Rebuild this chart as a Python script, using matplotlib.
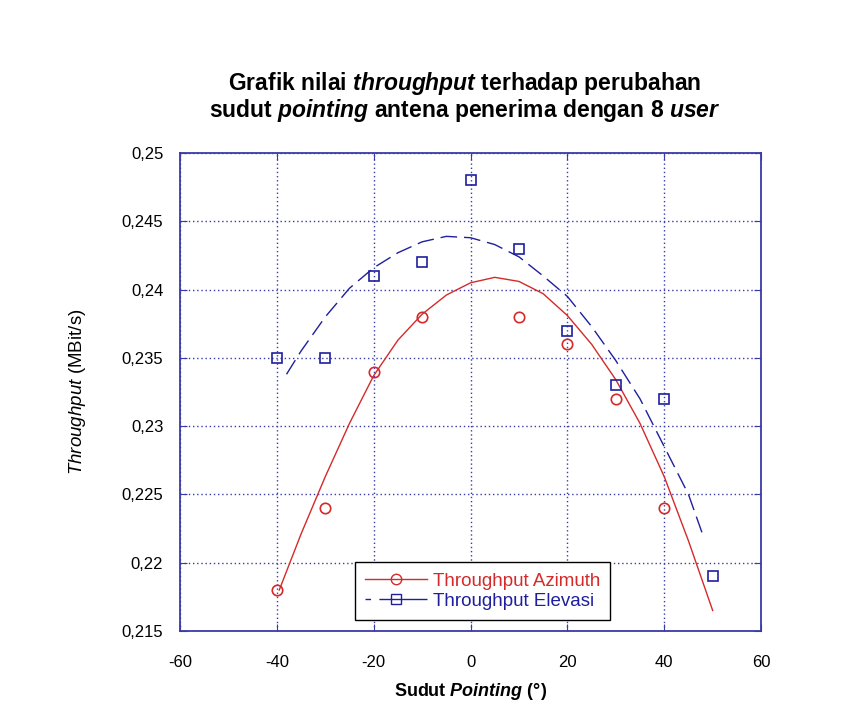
import numpy as np
import matplotlib
matplotlib.use("Agg")
import matplotlib.pyplot as plt
from matplotlib.ticker import FuncFormatter, MultipleLocator

plt.rcParams['font.family'] = ['Liberation Sans', 'DejaVu Sans']
plt.rcParams['mathtext.fontset'] = 'custom'
plt.rcParams['mathtext.rm'] = 'Liberation Sans'
plt.rcParams['mathtext.it'] = 'Liberation Sans:italic'
plt.rcParams['mathtext.bf'] = 'Liberation Sans:bold'
plt.rcParams['mathtext.bfit'] = 'Liberation Sans:italic:bold'

# measured points
azimuth_x = [-40, -30, -20, -10, 10, 20, 30, 40]
azimuth_y = [0.218, 0.224, 0.234, 0.238, 0.238, 0.236, 0.232, 0.224]
elevasi_x = [-40, -30, -20, -10, 0, 10, 20, 30, 40, 50]
elevasi_y = [0.235, 0.235, 0.241, 0.242, 0.248, 0.243, 0.237, 0.233, 0.232, 0.219]

# trend curves
az_curve_x = [-39.5, -35, -30, -25, -20, -15, -10, -5, 0, 5, 10, 15, 20, 25, 30, 35, 40, 45, 50]
az_curve_y = [0.2180, 0.2221, 0.2263, 0.2302, 0.2337, 0.2363, 0.2382, 0.2396, 0.2405, 0.2409,
              0.2406, 0.2397, 0.2381, 0.2360, 0.2334, 0.2302, 0.2263, 0.2216, 0.2165]
el_curve_x = [-38, -35, -30, -25, -20, -15, -10, -5, 0, 5, 10, 15, 20, 25, 30, 35, 40, 45, 48]
el_curve_y = [0.2338, 0.2355, 0.2380, 0.2401, 0.2416, 0.2427, 0.2435, 0.2439, 0.2438, 0.2433,
              0.2424, 0.2410, 0.2395, 0.2373, 0.2348, 0.2320, 0.2285, 0.2250, 0.2220]

red = '#d42a2a'
blue = '#1f1f9e'
frame = '#3a3aa8'

fig = plt.figure(figsize=(8.61, 7.22), dpi=100)
ax = fig.add_axes([0.209, 0.126, 0.675, 0.662])

ax.plot(az_curve_x, az_curve_y, color=red, lw=1.0)
ax.plot(el_curve_x, el_curve_y, color=blue, lw=1.0, dashes=(12, 5))
ax.plot(azimuth_x, azimuth_y, 'o', mfc='none', mec=red, mew=1.2, ms=7.5)
ax.plot(elevasi_x, elevasi_y, 's', mfc='none', mec=blue, mew=1.2, ms=7.5)

# legend proxies
h1, = ax.plot([], [], color=red, lw=1.0, marker='o', mfc='none', mec=red, ms=7.5)
h2, = ax.plot([], [], color=blue, lw=1.0, marker='s', mfc='none', mec=blue, ms=7.5,
              dashes=(4, 6, 60, 0))
leg = ax.legend([h1, h2], ['Throughput Azimuth', 'Throughput Elevasi'],
                loc='lower left', bbox_to_anchor=(0.301, 0.023), borderaxespad=0,
                fancybox=False, edgecolor='black', framealpha=1, fontsize=13.5,
                handlelength=3.3, handletextpad=0.3, labelspacing=0.15,
                borderpad=0.55)
leg.get_frame().set_linewidth(1.0)
for txt, c in zip(leg.get_texts(), [red, blue]):
    txt.set_color(c)

ax.set_xlim(-60, 60)
ax.set_ylim(0.215, 0.25)
ax.xaxis.set_major_locator(MultipleLocator(20))
ax.yaxis.set_major_locator(MultipleLocator(0.005))
ax.yaxis.set_major_formatter(FuncFormatter(lambda v, p: ('%g' % round(v, 4)).replace('.', ',')))
ax.xaxis.set_major_formatter(FuncFormatter(lambda v, p: '%g' % v))

ax.grid(True, linestyle=(0, (1, 2)), color=frame, lw=1.0)
for s in ax.spines.values():
    s.set_color(frame)
    s.set_linewidth(1.3)
ax.tick_params(direction='in', top=True, right=True, color=frame, length=5,
               labelsize=12, pad=12)
ax.tick_params(axis='x', pad=17)

fig.text(0.54, 0.866, 'Grafik nilai $\\mathbfit{throughput}$ terhadap perubahan\n'
         'sudut $\\mathbfit{pointing}$ antena penerima dengan 8 $\\mathbfit{user}$',
         ha='center', va='center', fontsize=16.5, fontweight='bold', linespacing=1.0)
ax.set_xlabel('Sudut $\\mathbfit{Pointing}$ (°)', fontsize=13, fontweight='bold', labelpad=8)
ax.set_ylabel('$\\mathit{Throughput}$ (MBit/s)', fontsize=13.5, labelpad=24)

fig.savefig('out.png', dpi=100)
